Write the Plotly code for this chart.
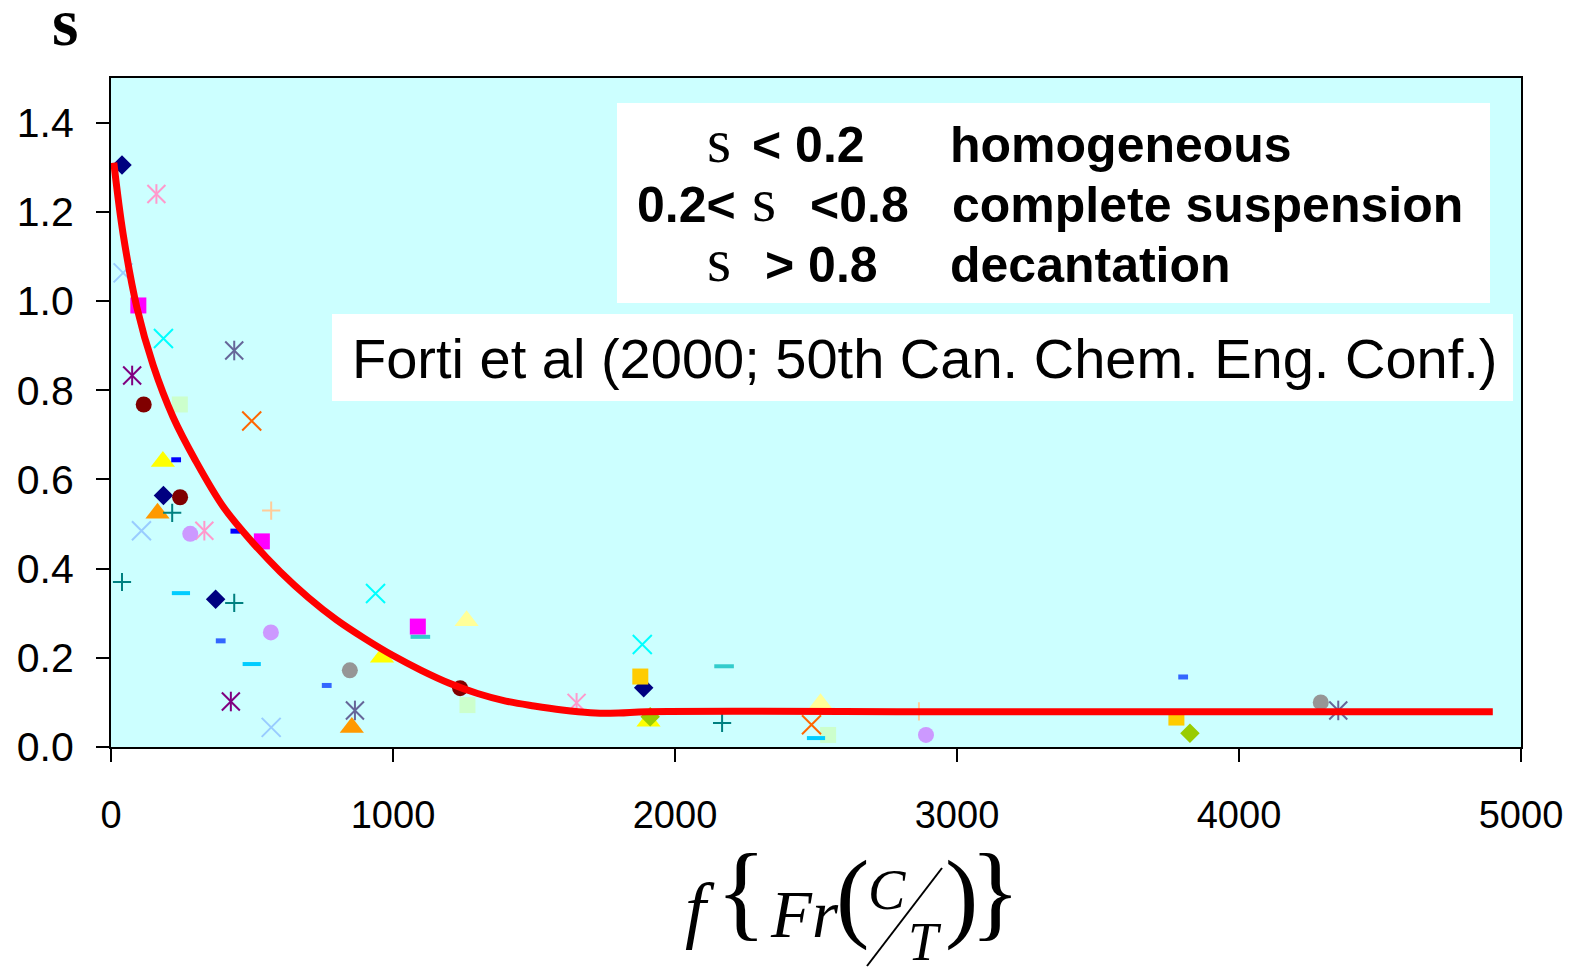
import plotly.graph_objects as go

# ---------------- data ----------------
navy_diamond_x = [39, 186, 371, 1889]
navy_diamond_y = [1.305, 0.564, 0.331, 0.133]
pink_ast_x = [161, 331, 1651]
pink_ast_y = [1.24, 0.485, 0.099]
ltblue_x_x = [43, 108, 568]
ltblue_x_y = [1.063, 0.485, 0.044]
magenta_sq_x = [97, 535, 1088]
magenta_sq_y = [0.99, 0.461, 0.27]
cyan_x_x = [186, 938, 1884]
cyan_x_y = [0.916, 0.344, 0.23]
slate_ast_x = [437, 865, 4352]
slate_ast_y = [0.889, 0.082, 0.082]
purple_ast_x = [75, 425]
purple_ast_y = [0.833, 0.102]
darkred_circ_x = [116, 245, 1238]
darkred_circ_y = [0.768, 0.56, 0.132]
ltgreen_sq_x = [244, 1264, 2543]
ltgreen_sq_y = [0.768, 0.094, 0.027]
orange_x_x = [499, 2484]
orange_x_y = [0.731, 0.05]
yellow_tri_x = [184, 961, 1906]
yellow_tri_y = [0.64, 0.201, 0.058]
blue_dash_x = [231, 441]
blue_dash_y = [0.644, 0.484]
royal_dash_x = [389, 765, 3802]
royal_dash_y = [0.238, 0.138, 0.157]
orange_tri_x = [165, 854]
orange_tri_y = [0.524, 0.044]
teal_plus_x = [39, 217, 437, 2167]
teal_plus_y = [0.37, 0.525, 0.323, 0.054]
peach_plus_x = [568, 2865]
peach_plus_y = [0.53, 0.08]
lavender_circ_x = [281, 567, 2890]
lavender_circ_y = [0.478, 0.257, 0.027]
cyan_dash_x = [248, 499, 2500]
cyan_dash_y = [0.345, 0.186, 0.02]
teal_dash_x = [1097, 2174]
teal_dash_y = [0.247, 0.181]
ltyellow_tri_x = [1261, 2516]
ltyellow_tri_y = [0.283, 0.097]
gray_circ_x = [847, 4290]
gray_circ_y = [0.172, 0.1]
gold_sq_x = [1877, 3778]
gold_sq_y = [0.158, 0.066]
ygreen_diamond_x = [1912, 3826]
ygreen_diamond_y = [0.068, 0.031]

curve_x = [10, 43, 92, 150, 220, 300, 400, 500, 600, 700, 800, 900, 1000,
           1100, 1200, 1300, 1400, 1500, 1600, 1700, 1800, 1900, 3000, 4000, 4900]
curve_y = [1.31, 1.15, 0.985, 0.855, 0.74, 0.642, 0.537, 0.46, 0.393, 0.335,
           0.285, 0.243, 0.205, 0.172, 0.143, 0.12, 0.103, 0.092, 0.083, 0.077,
           0.076, 0.079, 0.079, 0.079, 0.079]

x_ticks = [0, 1000, 2000, 3000, 4000, 5000]
y_ticks = [0.0, 0.2, 0.4, 0.6, 0.8, 1.0, 1.2, 1.4]

# ---------------- figure ----------------
W, H = 1585, 967
L, R, T, B = 111, 1521, 78, 747


def px(x):
    return (x - L) / (R - L)


def py(y):
    return (B - y) / (B - T)


fig = go.Figure()


def add(xs, ys, color, symbol, size, lw=0):
    open_sym = symbol.endswith("thin") or symbol.startswith("line")
    fig.add_trace(go.Scatter(
        x=xs, y=ys, mode="markers", showlegend=False, hoverinfo="skip",
        marker=dict(symbol=symbol, size=size, color=color,
                    line=dict(color=color, width=lw if open_sym else 0))))


def add_ast(xs, ys, color):
    add(xs, ys, color, "x-thin", 18, 2)
    add(xs, ys, color, "line-ns", 14, 2)


add(navy_diamond_x, navy_diamond_y, "#000080", "diamond", 15)
add_ast(pink_ast_x, pink_ast_y, "#FF99CC")
add(ltblue_x_x, ltblue_x_y, "#99CCFF", "x-thin", 19, 2)
add(magenta_sq_x, magenta_sq_y, "#FF00FF", "square", 16)
add(cyan_x_x, cyan_x_y, "#00FFFF", "x-thin", 19, 2)
add_ast(slate_ast_x, slate_ast_y, "#666699")
add_ast(purple_ast_x, purple_ast_y, "#800080")
add(darkred_circ_x, darkred_circ_y, "#800000", "circle", 16)
add(ltgreen_sq_x, ltgreen_sq_y, "#CCFFCC", "square", 16)
add(orange_x_x, orange_x_y, "#FF6600", "x-thin", 19, 2)
add(yellow_tri_x, yellow_tri_y, "#FFFF00", "triangle-up", 21)
add(blue_dash_x, blue_dash_y, "#0000FF", "line-ew", 7, 5)
add(royal_dash_x, royal_dash_y, "#3366FF", "line-ew", 7, 5)
add(orange_tri_x, orange_tri_y, "#FF9900", "triangle-up", 21)
add(teal_plus_x, teal_plus_y, "#008080", "cross-thin", 13, 2)
add(peach_plus_x, peach_plus_y, "#FFCC99", "cross-thin", 13, 2)
add(lavender_circ_x, lavender_circ_y, "#CC99FF", "circle", 16)
add(cyan_dash_x, cyan_dash_y, "#00CCFF", "line-ew", 13, 4)
add(teal_dash_x, teal_dash_y, "#33CCCC", "line-ew", 14, 4)
add(ltyellow_tri_x, ltyellow_tri_y, "#FFFF99", "triangle-up", 21)
add(gray_circ_x, gray_circ_y, "#969696", "circle", 16)
add(gold_sq_x, gold_sq_y, "#FFCC00", "square", 16)
add(ygreen_diamond_x, ygreen_diamond_y, "#99CC00", "diamond", 15)

fig.add_trace(go.Scatter(
    x=curve_x, y=curve_y, mode="lines", showlegend=False, hoverinfo="skip",
    line=dict(color="#FF0000", width=7, shape="spline", smoothing=1.0)))

axis_common = dict(showline=True, linecolor="black", linewidth=2, mirror=True,
                   ticks="outside", ticklen=13, tickwidth=2, tickcolor="black",
                   showgrid=False, zeroline=False)

fig.update_xaxes(range=[0, 5000], tickvals=x_ticks,
                 ticktext=[str(v) for v in x_ticks],
                 tickfont=dict(family="Liberation Sans", size=38, color="black"),
                 ticklabelstandoff=20, **axis_common)
fig.update_yaxes(range=[0, 1.5], tickvals=y_ticks,
                 ticktext=["%.1f" % v for v in y_ticks],
                 tickfont=dict(family="Liberation Sans", size=41, color="black"),
                 ticklabelstandoff=14, **axis_common)

shapes = [
    dict(type="rect", xref="paper", yref="paper", x0=px(617), x1=px(1490),
         y0=py(303), y1=py(103), fillcolor="white", line=dict(width=0), layer="above"),
    dict(type="rect", xref="paper", yref="paper", x0=px(332), x1=px(1513),
         y0=py(401), y1=py(314), fillcolor="white", line=dict(width=0), layer="above"),
    dict(type="line", xref="paper", yref="paper", x0=px(942), y0=py(868),
         x1=px(867), y1=py(966), line=dict(color="black", width=2)),
]

ann = []


def text(x, baseline, s, size, family="Liberation Sans", anchor="left", color="black"):
    ann.append(dict(x=px(x), y=py(baseline - 0.35 * size), xref="paper", yref="paper",
                    text=s, showarrow=False, xanchor=anchor, yanchor="middle",
                    font=dict(family=family, size=size, color=color)))


BOLD = 50
SER = 62
# legend box lines
text(705, 163, "s", SER, "Liberation Serif")
text(750, 163, "<b>&lt; 0.2</b>", BOLD)
text(948, 163, "<b>homogeneous</b>", BOLD)
text(635, 222, "<b>0.2&lt;</b>", BOLD)
text(750, 222, "s", SER, "Liberation Serif")
text(808, 222, "<b>&lt;0.8</b>", BOLD)
text(950, 222, "<b>complete suspension</b>", BOLD)
text(705, 282, "s", SER, "Liberation Serif")
text(763, 282, "<b>&gt; 0.8</b>", BOLD)
text(948, 282, "<b>decantation</b>", BOLD)
# citation
text(350, 378, "Forti et al (2000; 50th Can. Chem. Eng. Conf.)", 56)
# y-axis label
text(50, 46, "<b>s</b>", 68, "Liberation Serif")

# x-axis label pieces: f { Fr ( C / T ) }
text(700, 935, "<i>f</i>", 75, "Liberation Serif", anchor="center")
text(741, 928, "{", 105, "Liberation Serif", anchor="center")
text(768, 937, "<i>Fr</i>", 67, "Liberation Serif")
text(852, 930, "(", 100, "Liberation Serif", anchor="center")
text(866, 910, "<i>C</i>", 56, "Liberation Serif")
text(906, 961, "<i>T</i>", 54, "Liberation Serif")
text(961, 930, ")", 100, "Liberation Serif", anchor="center")
text(995, 928, "}", 105, "Liberation Serif", anchor="center")

fig.update_layout(width=W, height=H, margin=dict(l=L, r=W - R, t=T, b=H - B),
                  paper_bgcolor="white", plot_bgcolor="#CCFFFF",
                  shapes=shapes, annotations=ann)

fig.write_html("out.html")
